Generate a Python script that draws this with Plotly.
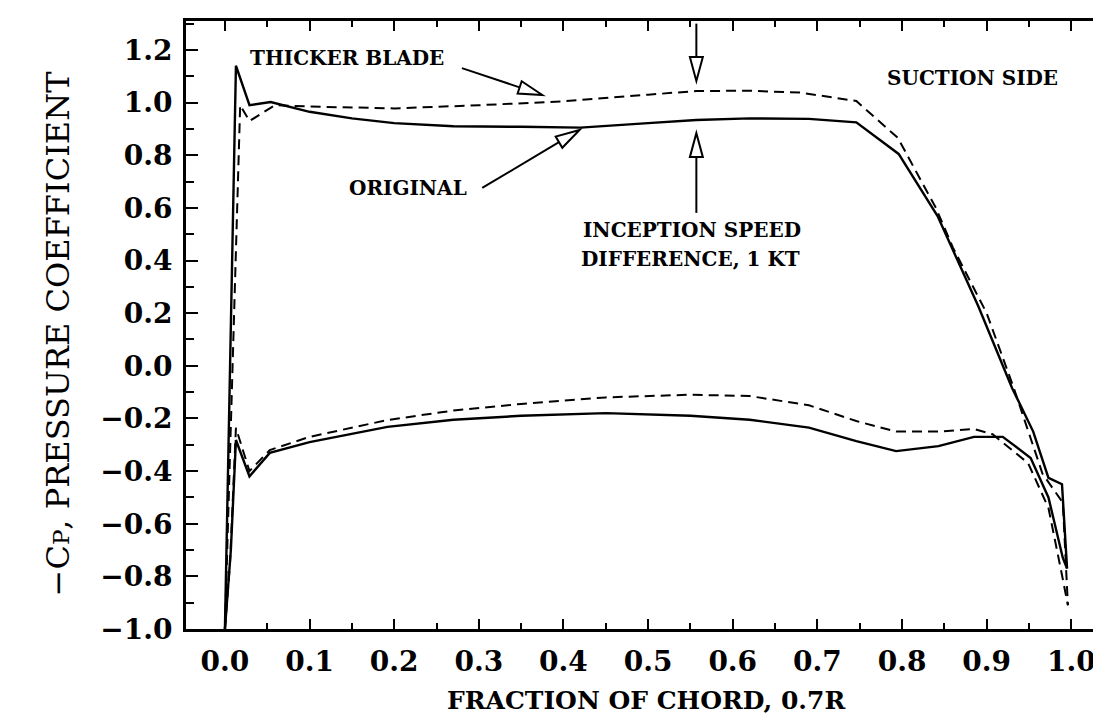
import math
import plotly.graph_objects as go

# ---------------- data ----------------
x_orig_suction = [0.000, 0.013, 0.029, 0.054, 0.10, 0.15, 0.20, 0.27, 0.35, 0.42, 0.50, 0.557, 0.62,
                  0.69, 0.746, 0.796, 0.842, 0.89, 0.93, 0.955, 0.973, 0.989, 0.995]
y_orig_suction = [-1.0, 1.14, 0.99, 1.002, 0.965, 0.94, 0.922, 0.91, 0.908, 0.905, 0.922, 0.934, 0.94,
                  0.938, 0.925, 0.805, 0.569, 0.227, -0.084, -0.25, -0.426, -0.45, -0.77]

x_thick_suction = [0.000, 0.018, 0.029, 0.059, 0.10, 0.20, 0.30, 0.40, 0.50, 0.557, 0.62, 0.68,
                   0.746, 0.795, 0.84, 0.86, 0.90, 0.932, 0.966, 0.99, 0.996]
y_thick_suction = [-1.0, 0.99, 0.93, 0.99, 0.985, 0.978, 0.99, 1.005, 1.03, 1.044, 1.045, 1.038,
                   1.006, 0.866, 0.60, 0.45, 0.20, -0.084, -0.41, -0.52, -0.91]

x_orig_pressure = [0.000, 0.007, 0.013, 0.029, 0.053, 0.10, 0.192, 0.27, 0.35, 0.45, 0.55, 0.62,
                   0.69, 0.746, 0.793, 0.843, 0.885, 0.919, 0.952, 0.973, 0.99, 0.995]
y_orig_pressure = [-1.0, -0.70, -0.282, -0.42, -0.331, -0.29, -0.232, -0.205, -0.19, -0.18, -0.19, -0.205,
                   -0.235, -0.286, -0.324, -0.305, -0.27, -0.27, -0.35, -0.50, -0.73, -0.77]

x_thick_pressure = [0.000, 0.006, 0.013, 0.029, 0.053, 0.10, 0.192, 0.27, 0.35, 0.45, 0.55, 0.62,
                    0.69, 0.746, 0.793, 0.843, 0.885, 0.907, 0.949, 0.973, 0.989, 0.996]
y_thick_pressure = [-1.0, -0.75, -0.236, -0.40, -0.32, -0.27, -0.206, -0.17, -0.145, -0.12, -0.11, -0.115,
                    -0.15, -0.21, -0.25, -0.25, -0.24, -0.26, -0.37, -0.54, -0.795, -0.91]

x_tick_vals = [0.0, 0.1, 0.2, 0.3, 0.4, 0.5, 0.6, 0.7, 0.8, 0.9, 1.0]
y_tick_vals = [-1.0, -0.8, -0.6, -0.4, -0.2, 0.0, 0.2, 0.4, 0.6, 0.8, 1.0, 1.2]

# annotation arrows: (tail, tip) in data units
arrow_specs = [
    ((0.280, 1.131), (0.375, 1.029)),   # THICKER BLADE
    ((0.304, 0.676), (0.419, 0.896)),   # ORIGINAL
    ((0.557, 1.300), (0.557, 1.082)),   # top arrow
    ((0.557, 0.581), (0.557, 0.884)),   # bottom arrow
]

# ---------------- layout geometry ----------------
W, H = 1101, 717
ML, MR, MT, MB = 178, 0, 13, 96
XR = [-0.046, 1.041]
YR = [-1.0, 1.31]
pw, ph = W - ML - MR, H - MT - MB
sx = pw / (XR[1] - XR[0])
sy = ph / (YR[1] - YR[0])

FONT = "DejaVu Serif"

fig = go.Figure()
line_solid = dict(color="black", width=2.4)
line_dash = dict(color="black", width=2, dash="10px,6px")

fig.add_trace(go.Scatter(x=x_orig_suction, y=y_orig_suction, mode="lines", line=line_solid))
fig.add_trace(go.Scatter(x=x_orig_pressure, y=y_orig_pressure, mode="lines", line=line_solid))
fig.add_trace(go.Scatter(x=x_thick_suction, y=y_thick_suction, mode="lines", line=line_dash))
fig.add_trace(go.Scatter(x=x_thick_pressure, y=y_thick_pressure, mode="lines", line=line_dash))

shapes = []
for tail, tip in arrow_specs:
    dx = (tip[0] - tail[0]) * sx
    dy = (tip[1] - tail[1]) * sy
    L = math.hypot(dx, dy)
    ux, uy = dx / L, dy / L
    hl, hw = 24, 6.5
    bx, by = -ux * hl, -uy * hl
    nx, ny = -uy * hw, ux * hw
    base = (tip[0] + bx / sx, tip[1] + by / sy)
    p1 = (tip[0] + (bx + nx) / sx, tip[1] + (by + ny) / sy)
    p2 = (tip[0] + (bx - nx) / sx, tip[1] + (by - ny) / sy)
    shapes.append(dict(type="line", xref="x", yref="y", x0=tail[0], y0=tail[1], x1=base[0], y1=base[1],
                       line=dict(color="black", width=2)))
    shapes.append(dict(type="path", xref="x", yref="y",
                       path=f"M {tip[0]},{tip[1]} L {p1[0]},{p1[1]} L {p2[0]},{p2[1]} Z",
                       fillcolor="white", line=dict(color="black", width=2)))


def px(xp):
    return (xp - ML) / pw


def py(yp):
    return (H - MB - yp) / ph


ann_font = dict(family=FONT, size=20, color="black", weight="bold")
annotations = [
    dict(text="THICKER BLADE", x=px(340), y=py(50), showarrow=False, font=ann_font,
         xanchor="center", yanchor="middle"),
    dict(text="SUCTION SIDE", x=px(967), y=py(70), showarrow=False, font=ann_font,
         xanchor="center", yanchor="middle"),
    dict(text="ORIGINAL", x=px(401), y=py(180), showarrow=False, font=ann_font,
         xanchor="center", yanchor="middle"),
    dict(text="INCEPTION SPEED", x=px(574), y=py(222), showarrow=False, font=ann_font,
         xanchor="left", yanchor="middle"),
    dict(text="DIFFERENCE, 1 KT", x=px(572), y=py(251), showarrow=False, font=ann_font,
         xanchor="left", yanchor="middle"),
    dict(text="FRACTION OF CHORD, 0.7R", x=0.5, y=py(692), showarrow=False,
         font=dict(family=FONT, size=25, color="black", weight="bold"),
         xanchor="center", yanchor="middle", borderpad=0),
    dict(text="\u2212C<span style='font-size:23px'>P</span>, PRESSURE COEFFICIENT", x=px(50), y=py(325),
         textangle=-90, showarrow=False,
         font=dict(family=FONT, size=32, color="black"),
         xanchor="center", yanchor="middle"),
]
for a in annotations:
    a["xref"] = "paper"
    a["yref"] = "paper"

tickfont = dict(family=FONT, size=28, color="black", weight="bold")
fig.update_layout(
    width=W, height=H,
    margin=dict(l=ML, r=MR, t=MT, b=MB, pad=0),
    paper_bgcolor="white", plot_bgcolor="white",
    showlegend=False,
    shapes=shapes,
    annotations=annotations,
    xaxis=dict(range=XR, tickmode="array", tickvals=x_tick_vals,
               ticktext=[f"{v:.1f}" for v in x_tick_vals],
               ticks="inside", ticklen=10, tickwidth=2, tickcolor="black",
               minor=dict(dtick=0.05, tick0=0, ticks="inside", ticklen=6, tickwidth=2, tickcolor="black"),
               showline=True, linecolor="black", linewidth=3, mirror="allticks",
               showgrid=False, zeroline=False, tickfont=tickfont, ticklabelstandoff=5),
    yaxis=dict(range=YR, tickmode="array", tickvals=y_tick_vals,
               ticktext=[f"{v:.1f}".replace("-", "\u2212") for v in y_tick_vals],
               ticks="inside", ticklen=12, tickwidth=2, tickcolor="black",
               minor=dict(dtick=0.1, tick0=0, ticks="inside", ticklen=8, tickwidth=2, tickcolor="black"),
               showline=True, linecolor="black", linewidth=3, mirror="allticks",
               showgrid=False, zeroline=False, tickfont=tickfont, ticklabelstandoff=5),
)

fig.write_html("out.html")
